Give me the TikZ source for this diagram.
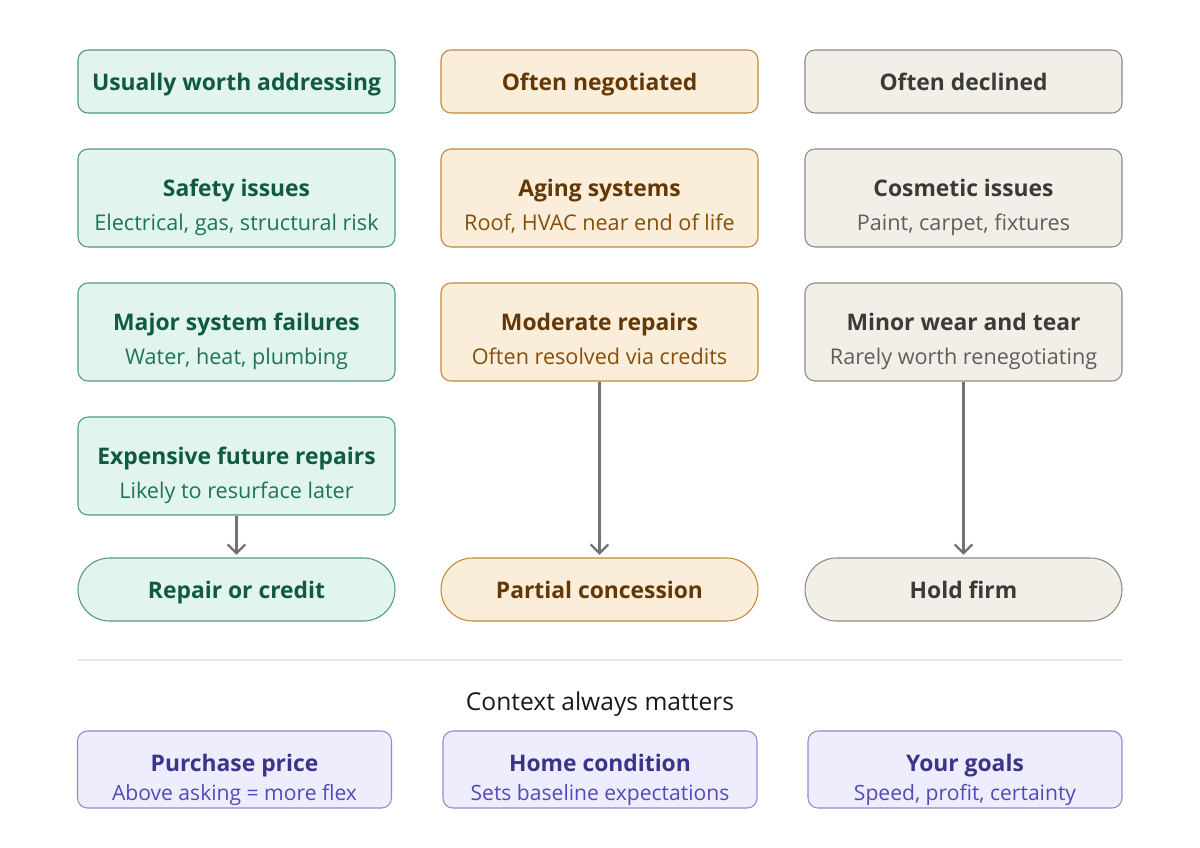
\documentclass[tikz,border=0pt]{standalone}
\usepackage{fontspec}
\setmainfont{Open Sans}
\usepackage{tikz}
\usetikzlibrary{arrows.meta}
\definecolor{fixfill}{HTML}{E1F5EE}
\definecolor{fixdraw}{HTML}{4E9A7C}
\definecolor{fixtext}{HTML}{0F5A40}
\definecolor{fixsub}{HTML}{1D7553}
\definecolor{negfill}{HTML}{FAEEDA}
\definecolor{negdraw}{HTML}{C0883A}
\definecolor{negtext}{HTML}{633806}
\definecolor{negsub}{HTML}{854F0B}
\definecolor{decfill}{HTML}{F1EFE8}
\definecolor{decdraw}{HTML}{8C8A84}
\definecolor{dectext}{HTML}{3A3A37}
\definecolor{decsub}{HTML}{5F5E5A}
\definecolor{ctxfill}{HTML}{EEEDFE}
\definecolor{ctxdraw}{HTML}{8F8BD0}
\definecolor{ctxtext}{HTML}{3C3489}
\definecolor{ctxsub}{HTML}{534AB7}
\definecolor{linkgray}{HTML}{73726E}
\begin{document}
\begin{tikzpicture}[
    card/.style={rounded corners=0.2cm, line width=0.6pt, minimum width=6.34cm, minimum height=1.96cm, inner sep=0pt},
    head/.style={card, minimum height=1.26cm, font=\fontsize{13}{15}\selectfont\bfseries, text height=10pt, text depth=0pt},
    pill/.style={head, rounded corners=0.63cm},
    ctx/.style={card, minimum width=6.28cm, minimum height=1.54cm},
    ttl/.style={anchor=base, inner sep=0pt, font=\fontsize{13}{15}\selectfont\bfseries},
    sub/.style={anchor=base, inner sep=0pt, font=\fontsize{12.3}{14}\selectfont},
    fix/.style={draw=fixdraw, fill=fixfill, text=fixtext},
    neg/.style={draw=negdraw, fill=negfill, text=negtext},
    dec/.style={draw=decdraw, fill=decfill, text=dectext},
    cx/.style={draw=ctxdraw, fill=ctxfill, text=ctxtext},
    link/.style={-{Straight Barb[length=5pt,width=10pt]}, draw=linkgray, line width=1.3pt, shorten >=1.5pt}
]
\useasboundingbox (0,0) rectangle (24,-16.94);
% column headers
\node[head, fix] (hfix) at (4.73,-1.63) {Usually worth addressing};
\node[head, neg] (hneg) at (11.99,-1.63) {Often negotiated};
\node[head, dec] (hdec) at (19.27,-1.63) {Often declined};
% addressed items
\node[card, fix] (safety) at (4.73,-3.96) {};
\node[ttl, text=fixtext] (safetyT) at ([yshift=0.04cm]safety.center) {Safety issues};
\node[sub, text=fixsub] (safetyS) at ([yshift=-0.64cm]safety.center) {Electrical, gas, structural risk};
\node[card, fix] (major) at (4.73,-6.64) {};
\node[ttl, text=fixtext] (majorT) at ([yshift=0.04cm]major.center) {Major system failures};
\node[sub, text=fixsub] (majorS) at ([yshift=-0.64cm]major.center) {Water, heat, plumbing};
\node[card, fix] (future) at (4.73,-9.32) {};
\node[ttl, text=fixtext] (futureT) at ([yshift=0.04cm]future.center) {Expensive future repairs};
\node[sub, text=fixsub] (futureS) at ([yshift=-0.64cm]future.center) {Likely to resurface later};
% negotiated items
\node[card, neg] (aging) at (11.99,-3.96) {};
\node[ttl, text=negtext] (agingT) at ([yshift=0.04cm]aging.center) {Aging systems};
\node[sub, text=negsub] (agingS) at ([yshift=-0.64cm]aging.center) {Roof, HVAC near end of life};
\node[card, neg] (moderate) at (11.99,-6.64) {};
\node[ttl, text=negtext] (moderateT) at ([yshift=0.04cm]moderate.center) {Moderate repairs};
\node[sub, text=negsub] (moderateS) at ([yshift=-0.64cm]moderate.center) {Often resolved via credits};
% declined items
\node[card, dec] (cosmetic) at (19.27,-3.96) {};
\node[ttl, text=dectext] (cosmeticT) at ([yshift=0.04cm]cosmetic.center) {Cosmetic issues};
\node[sub, text=decsub] (cosmeticS) at ([yshift=-0.64cm]cosmetic.center) {Paint, carpet, fixtures};
\node[card, dec] (minor) at (19.27,-6.64) {};
\node[ttl, text=dectext] (minorT) at ([yshift=0.04cm]minor.center) {Minor wear and tear};
\node[sub, text=decsub] (minorS) at ([yshift=-0.64cm]minor.center) {Rarely worth renegotiating};
% outcomes
\node[pill, fix] (repair) at (4.73,-11.79) {Repair or credit};
\node[pill, neg] (partial) at (11.99,-11.79) {Partial concession};
\node[pill, dec] (hold) at (19.27,-11.79) {Hold firm};

\draw[link] (future) -- (repair);
\draw[link] (moderate) -- (partial);
\draw[link] (minor) -- (hold);

% context
\draw[line width=0.6pt, draw=black!10] (1.56,-13.2) -- (22.44,-13.2);
\node[font=\fontsize{14}{16}\selectfont, text=black!90] (context) at (12,-14.08) {Context always matters};
\node[ctx, cx] (price) at (4.69,-15.39) {};
\node[ttl, text=ctxtext] (priceT) at ([yshift=-0.04cm]price.center) {Purchase price};
\node[sub, text=ctxsub, font=\fontsize{12}{14}\selectfont] (priceS) at ([yshift=-0.62cm]price.center) {Above asking = more flex};
\node[ctx, cx] (condition) at (12.0,-15.39) {};
\node[ttl, text=ctxtext] (conditionT) at ([yshift=-0.04cm]condition.center) {Home condition};
\node[sub, text=ctxsub, font=\fontsize{12}{14}\selectfont] (conditionS) at ([yshift=-0.62cm]condition.center) {Sets baseline expectations};
\node[ctx, cx] (goals) at (19.3,-15.39) {};
\node[ttl, text=ctxtext] (goalsT) at ([yshift=-0.04cm]goals.center) {Your goals};
\node[sub, text=ctxsub, font=\fontsize{12}{14}\selectfont] (goalsS) at ([yshift=-0.62cm]goals.center) {Speed, profit, certainty};
\end{tikzpicture}
\end{document}
